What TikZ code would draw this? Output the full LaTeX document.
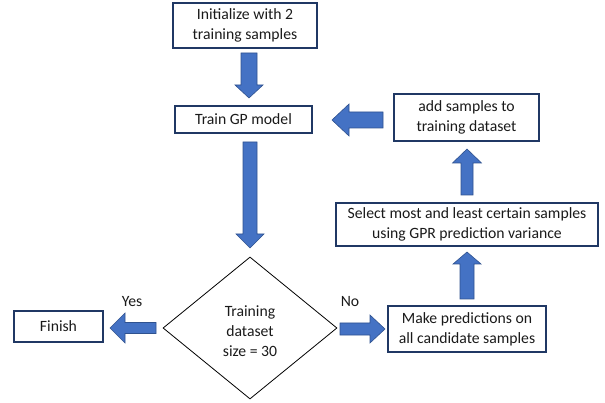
\documentclass[tikz,border=0pt]{standalone}
\usepackage{fontspec}
\setmainfont{Carlito}
\usetikzlibrary{calc,shapes.geometric}
\definecolor{boxline}{HTML}{203864}
\definecolor{arrowfill}{HTML}{4472C4}
\definecolor{arrowline}{HTML}{2F528F}
\definecolor{txt}{HTML}{1A1A1A}
\newcommand{\blockarrow}[5]{% start, tip, shaft half width, head half width, head length
  \coordinate (hb) at ($(#2)!#5!(#1)$);
  \filldraw[barrow] ($(#1)!#3!90:(#2)$) -- ($(hb)!#3!-90:(#1)$) -- ($(hb)!#4!-90:(#1)$) -- (#2)
    -- ($(hb)!#4!90:(#1)$) -- ($(hb)!#3!90:(#1)$) -- ($(#1)!#3!-90:(#2)$) -- cycle;
}
\begin{document}
\begin{tikzpicture}[x=1pt,y=-1pt,
  txtfont/.style={font=\fontsize{15.7}{20}\selectfont, text=txt},
  box/.style={draw=boxline, line width=1.3pt, align=center, inner sep=2pt, txtfont},
  decision/.style={diamond, draw=black, line width=0.8pt, inner sep=0pt},
  lbl/.style={txtfont, inner sep=0pt},
  barrow/.style={fill=arrowfill, draw=arrowline, line width=0.6pt, line join=miter}]
\useasboundingbox (0,0) rectangle (605,403);

\node[box, minimum width=144pt, minimum height=45pt] (init) at (245,25.5) {Initialize with 2\\training samples};
\node[box, minimum width=137pt, minimum height=27pt] (train) at (243.5,119.5) {Train GP model};
\node[decision, minimum width=174pt, minimum height=142pt] (dec) at (250,328) {};
\node[lbl, align=center] (dectext) at (250,331) {Training\\dataset\\size = 30};
\node[box, minimum width=89pt, minimum height=31pt] (finish) at (58.5,326.5) {Finish};
\node[box, minimum width=158pt, minimum height=46pt] (make) at (467,329) {Make predictions on\\all candidate samples};
\node[box, minimum width=262pt, minimum height=43pt] (select) at (467,224.5) {Select most and least certain samples\\using GPR prediction variance};
\node[box, minimum width=145pt, minimum height=47pt] (add) at (466.5,117.5) {add samples to\\training dataset};

\node[lbl] (yes) at (132,302) {Yes};
\node[lbl] (no) at (350,302) {No};

% arrow end points
\coordinate (a1s) at (249,53);  \coordinate (a1t) at (249,98);
\coordinate (a2s) at (250,142); \coordinate (a2t) at (250,248);
\coordinate (a3s) at (156,328); \coordinate (a3t) at (110,328);
\coordinate (a4s) at (340,329); \coordinate (a4t) at (385,329);
\coordinate (a5s) at (467,299); \coordinate (a5t) at (467,252);
\coordinate (a6s) at (467,195); \coordinate (a6t) at (467,149);
\coordinate (a7s) at (383,120); \coordinate (a7t) at (332,120);

\blockarrow{a1s}{a1t}{8pt}{14pt}{13pt}
\blockarrow{a2s}{a2t}{7pt}{14pt}{14pt}
\blockarrow{a3s}{a3t}{5.5pt}{15pt}{15pt}
\blockarrow{a4s}{a4t}{6pt}{14pt}{15pt}
\blockarrow{a5s}{a5t}{7pt}{14pt}{12pt}
\blockarrow{a6s}{a6t}{6pt}{14.5pt}{14pt}
\blockarrow{a7s}{a7t}{8pt}{16pt}{17pt}
\end{tikzpicture}
\end{document}
